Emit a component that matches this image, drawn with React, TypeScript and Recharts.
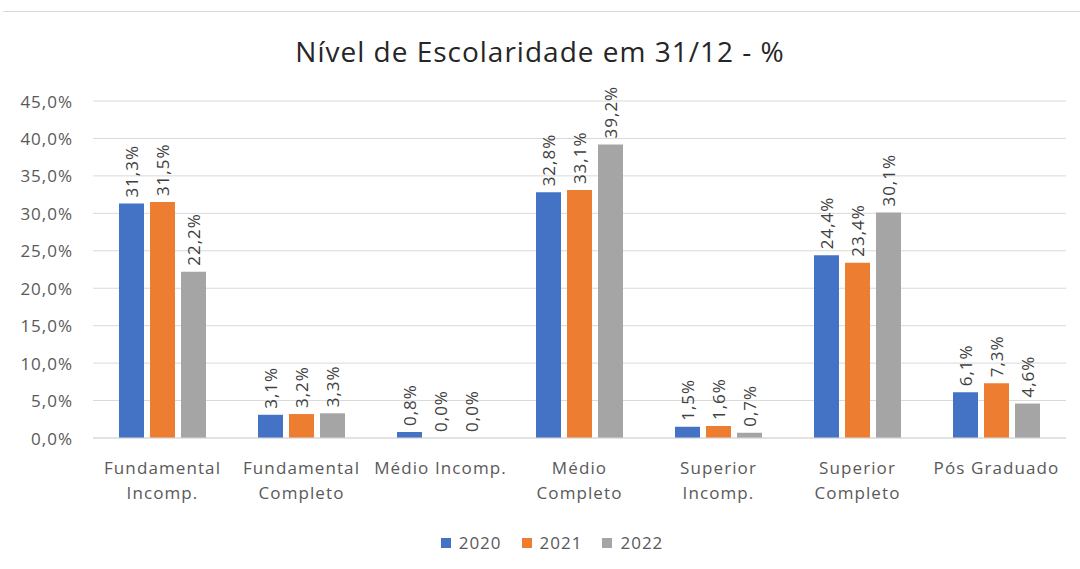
import React from 'react';
import { BarChart, Bar, XAxis, YAxis, CartesianGrid, Legend, LabelList } from 'recharts';

// Escolaridade por ano (% em 31/12)
const categories = [
  'Fundamental\nIncomp.',
  'Fundamental\nCompleto',
  'Médio Incomp.',
  'Médio\nCompleto',
  'Superior\nIncomp.',
  'Superior\nCompleto',
  'Pós Graduado',
];
const values2020 = [31.3, 3.1, 0.8, 32.8, 1.5, 24.4, 6.1];
const values2021 = [31.5, 3.2, 0.0, 33.1, 1.6, 23.4, 7.3];
const values2022 = [22.2, 3.3, 0.0, 39.2, 0.7, 30.1, 4.6];
const yTicks = [0, 5, 10, 15, 20, 25, 30, 35, 40, 45];

const COLORS = { y2020: '#4472C4', y2021: '#ED7D31', y2022: '#A5A5A5' };
const FONT = '"Open Sans", "Liberation Sans", sans-serif';
const TEXT = '#595959';

const fmt = (v: number) => v.toFixed(1).replace('.', ',') + '%';

const chartData = categories.map((name, i) => ({
  name,
  y2020: values2020[i],
  y2021: values2021[i],
  y2022: values2022[i],
}));

const CategoryTick = ({ x, y, payload }: any) => {
  const lines = String(payload.value).split('\n');
  return (
    <g>
      {lines.map((line, i) => (
        <text
          key={i}
          x={x}
          y={y + 28 + i * 25}
          textAnchor="middle"
          fill={TEXT}
          fontSize={17}
          letterSpacing={1.1}
          fontFamily={FONT}
        >
          {line}
        </text>
      ))}
    </g>
  );
};

const YTick = ({ x, y, payload }: any) => (
  <text
    x={x}
    y={y}
    textAnchor="end"
    dominantBaseline="central"
    fill={TEXT}
    fontSize={17}
    letterSpacing={1}
    fontFamily={FONT}
  >
    {fmt(payload.value)}
  </text>
);

const RotatedLabel = ({ x, y, width, value }: any) => {
  const cx = x + width / 2;
  const cy = y - 6;
  return (
    <text
      x={cx}
      y={cy}
      transform={`rotate(-90 ${cx} ${cy})`}
      textAnchor="start"
      dominantBaseline="central"
      fill="#404040"
      fontSize={17}
      letterSpacing={1}
      fontFamily={FONT}
    >
      {fmt(value)}
    </text>
  );
};

const LegendContent = ({ payload }: any) => (
  <div style={{ display: 'flex', justifyContent: 'center', paddingLeft: 24, fontFamily: FONT, fontSize: 17, letterSpacing: 1, color: TEXT }}>
    {payload.map((item: any) => (
      <div key={item.value} style={{ display: 'flex', alignItems: 'center', margin: '0 10px' }}>
        <span style={{ display: 'inline-block', width: 10, height: 10, background: item.color, marginRight: 8 }} />
        <span>{item.value}</span>
      </div>
    ))}
  </div>
);

export default function App() {
  return (
    <div style={{ position: 'relative', width: 1080, height: 569, background: '#fff' }}>
      <style>{`body { margin: 0; }`}</style>
      <div
        style={{
          position: 'absolute',
          top: 11,
          left: 3,
          right: 0,
          borderTop: '1px solid #d9d9d9',
        }}
      />
      <div
        style={{
          position: 'absolute',
          top: 32,
          left: 0,
          width: 1080,
          textAlign: 'center',
          fontFamily: FONT,
          fontSize: 28,
          letterSpacing: 1,
          color: '#262626',
        }}
      >
        Nível de Escolaridade em 31/12 - %
      </div>
      <BarChart
        width={1080}
        height={569}
        data={chartData}
        margin={{ top: 101, right: 14, left: 0, bottom: 101 }}
        barGap={6}
        barSize={25}
      >
        <CartesianGrid vertical={false} stroke="#d9d9d9" />
        <XAxis
          dataKey="name"
          interval={0}
          tickLine={false}
          axisLine={{ stroke: '#d9d9d9' }}
          tick={<CategoryTick />}
        />
        <YAxis
          width={93}
          domain={[0, 45]}
          ticks={yTicks}
          axisLine={false}
          tickLine={false}
          tickMargin={14}
          tick={<YTick />}
        />
        <Legend
          verticalAlign="middle"
          align="center"
          wrapperStyle={{ top: 531, left: 0, width: 1080 }}
          content={<LegendContent />}
        />
        <Bar dataKey="y2020" name="2020" fill={COLORS.y2020} minPointSize={0.01} isAnimationActive={false}>
          <LabelList dataKey="y2020" content={<RotatedLabel />} />
        </Bar>
        <Bar dataKey="y2021" name="2021" fill={COLORS.y2021} minPointSize={0.01} isAnimationActive={false}>
          <LabelList dataKey="y2021" content={<RotatedLabel />} />
        </Bar>
        <Bar dataKey="y2022" name="2022" fill={COLORS.y2022} minPointSize={0.01} isAnimationActive={false}>
          <LabelList dataKey="y2022" content={<RotatedLabel />} />
        </Bar>
      </BarChart>
    </div>
  );
}
